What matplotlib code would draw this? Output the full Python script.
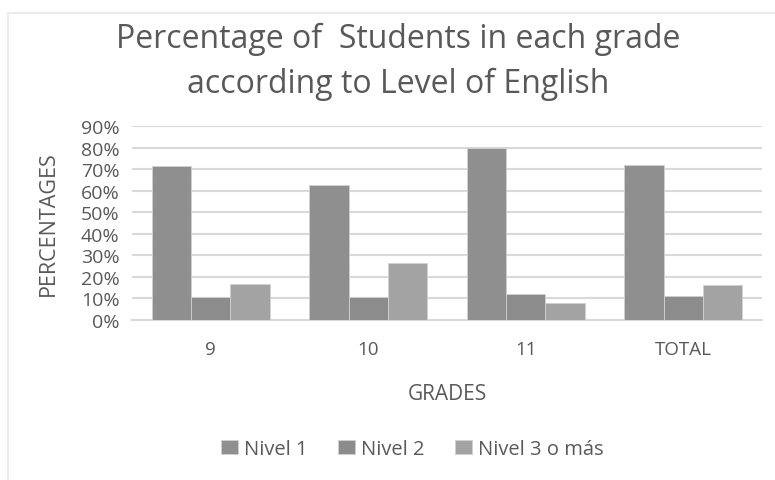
import numpy as np
import matplotlib.pyplot as plt
from matplotlib.lines import Line2D

grades = ["9", "10", "11", "TOTAL"]
nivel1 = [71.6, 62.6, 79.8, 72.1]
nivel2 = [10.7, 10.3, 11.9, 11.0]
nivel3 = [16.6, 26.1, 7.9, 16.0]
series_names = ["Nivel 1", "Nivel 2", "Nivel 3 o más"]
colors = ["#8f8f8f", "#8c8c8c", "#a3a3a3"]

plt.rcParams['font.family'] = ['Open Sans', 'DejaVu Sans']
txt = "#595959"
W, H = 775, 481

fig = plt.figure(figsize=(7.75, 4.81), dpi=100)
ax = fig.add_axes([132 / W, 1 - 320.5 / H, 630 / W, 193.2 / H])

x = np.arange(len(grades))
w = 0.25
for i, (vals, name, c) in enumerate(zip([nivel1, nivel2, nivel3], series_names, colors)):
    ax.bar(x + (i - 1) * w, np.array(vals) / 100, w, color=c, label=name,
           edgecolor="#d0d0d0", linewidth=0.6, zorder=3)

ax.set_xlim(-0.5, len(grades) - 0.5)
ax.set_ylim(0, 0.9)
yt = np.arange(0, 0.91, 0.1)
ax.set_yticks(yt)
ax.set_yticklabels([f"{int(round(v * 100))}%" for v in yt])
ax.set_xticks(x)
ax.set_xticklabels(grades)
ax.tick_params(axis='both', length=0, colors=txt)
ax.tick_params(axis='x', pad=15, labelsize=13.5)
ax.tick_params(axis='y', pad=9, labelsize=14)
ax.grid(axis='y', color="#d9d9d9", linewidth=1.5, zorder=0)
for s in ["top", "right", "left"]:
    ax.spines[s].set_visible(False)
ax.spines["bottom"].set_color("#d9d9d9")
ax.spines["bottom"].set_linewidth(1.5)

ax.set_ylabel("PERCENTAGES", color=txt, fontsize=15.5)
ax.yaxis.set_label_coords((59 - 132) / 630, 0.5)
ax.set_xlabel("GRADES", color=txt, fontsize=15)
ax.xaxis.set_label_coords(0.5, (320.5 - 384) / 193.2)

fig.text(398 / W, 1 - 48 / H, "Percentage of  Students in each grade",
         ha='center', va='baseline', fontsize=23, color=txt)
fig.text(398 / W, 1 - 93 / H, "according to Level of English",
         ha='center', va='baseline', fontsize=23, color=txt)

ax.legend(loc='center', bbox_to_anchor=((412 - 132) / 630, (320.5 - 450) / 193.2), ncol=3,
          frameon=False, fontsize=14.5, labelcolor=txt, handlelength=0.85,
          handleheight=0.75, handletextpad=0.3, columnspacing=1.5)

# light chart-area border
fig.add_artist(Line2D([8 / W, 1], [1 - 14 / H, 1 - 14 / H], color="#ececec", lw=1.5))
fig.add_artist(Line2D([8 / W, 8 / W], [0, 1 - 14 / H], color="#ececec", lw=1.5))

fig.savefig("out.png", dpi=100)
